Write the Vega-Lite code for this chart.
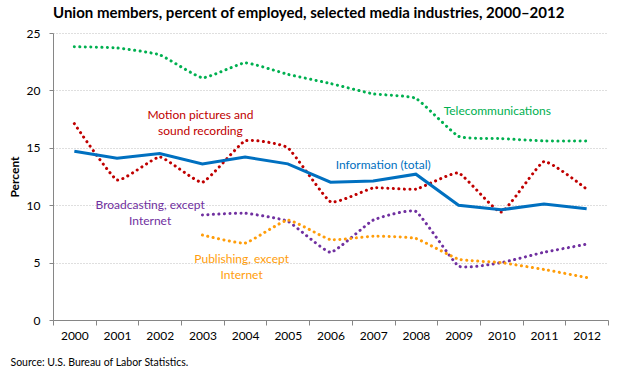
{
  "$schema": "https://vega.github.io/schema/vega-lite/v6.json",
  "width": 555,
  "height": 287,
  "autosize": "none",
  "padding": {"left": 53, "top": 33, "right": 12, "bottom": 52},
  "background": "white",
  "title": {
    "text": "Union members, percent of employed, selected media industries, 2000–2012",
    "anchor": "start",
    "frame": "group",
    "font": "Lato",
    "fontSize": 15,
    "fontWeight": "bold",
    "color": "#000000",
    "offset": 6
  },
  "config": {
    "view": {"stroke": null},
    "font": "Lato",
    "axis": {
      "labelFont": "Lato",
      "labelFontSize": 12,
      "labelColor": "#000000",
      "domainColor": "#868686",
      "tickColor": "#868686",
      "titleFont": "Lato"
    }
  },
  "datasets": {
    "series": [
      {"year": "2000", "series": "Information (total)", "value": 14.7},
      {"year": "2001", "series": "Information (total)", "value": 14.1},
      {"year": "2002", "series": "Information (total)", "value": 14.5},
      {"year": "2003", "series": "Information (total)", "value": 13.6},
      {"year": "2004", "series": "Information (total)", "value": 14.2},
      {"year": "2005", "series": "Information (total)", "value": 13.6},
      {"year": "2006", "series": "Information (total)", "value": 12.0},
      {"year": "2007", "series": "Information (total)", "value": 12.1},
      {"year": "2008", "series": "Information (total)", "value": 12.7},
      {"year": "2009", "series": "Information (total)", "value": 10.0},
      {"year": "2010", "series": "Information (total)", "value": 9.6},
      {"year": "2011", "series": "Information (total)", "value": 10.1},
      {"year": "2012", "series": "Information (total)", "value": 9.7},
      {"year": "2000", "series": "Telecommunications", "value": 23.8},
      {"year": "2001", "series": "Telecommunications", "value": 23.7},
      {"year": "2002", "series": "Telecommunications", "value": 23.1},
      {"year": "2003", "series": "Telecommunications", "value": 21.1},
      {"year": "2004", "series": "Telecommunications", "value": 22.4},
      {"year": "2005", "series": "Telecommunications", "value": 21.4},
      {"year": "2006", "series": "Telecommunications", "value": 20.6},
      {"year": "2007", "series": "Telecommunications", "value": 19.7},
      {"year": "2008", "series": "Telecommunications", "value": 19.3},
      {"year": "2009", "series": "Telecommunications", "value": 16.0},
      {"year": "2010", "series": "Telecommunications", "value": 15.8},
      {"year": "2011", "series": "Telecommunications", "value": 15.6},
      {"year": "2012", "series": "Telecommunications", "value": 15.6},
      {"year": "2000", "series": "Motion pictures and sound recording", "value": 17.1},
      {"year": "2001", "series": "Motion pictures and sound recording", "value": 12.2},
      {"year": "2002", "series": "Motion pictures and sound recording", "value": 14.2},
      {"year": "2003", "series": "Motion pictures and sound recording", "value": 12.0},
      {"year": "2004", "series": "Motion pictures and sound recording", "value": 15.6},
      {"year": "2005", "series": "Motion pictures and sound recording", "value": 15.0},
      {"year": "2006", "series": "Motion pictures and sound recording", "value": 10.3},
      {"year": "2007", "series": "Motion pictures and sound recording", "value": 11.5},
      {"year": "2008", "series": "Motion pictures and sound recording", "value": 11.4},
      {"year": "2009", "series": "Motion pictures and sound recording", "value": 12.8},
      {"year": "2010", "series": "Motion pictures and sound recording", "value": 9.4},
      {"year": "2011", "series": "Motion pictures and sound recording", "value": 13.8},
      {"year": "2012", "series": "Motion pictures and sound recording", "value": 11.4},
      {"year": "2003", "series": "Broadcasting, except Internet", "value": 9.15},
      {"year": "2004", "series": "Broadcasting, except Internet", "value": 9.3},
      {"year": "2005", "series": "Broadcasting, except Internet", "value": 8.6},
      {"year": "2006", "series": "Broadcasting, except Internet", "value": 5.9},
      {"year": "2007", "series": "Broadcasting, except Internet", "value": 8.7},
      {"year": "2008", "series": "Broadcasting, except Internet", "value": 9.45},
      {"year": "2009", "series": "Broadcasting, except Internet", "value": 4.7},
      {"year": "2010", "series": "Broadcasting, except Internet", "value": 5.0},
      {"year": "2011", "series": "Broadcasting, except Internet", "value": 5.9},
      {"year": "2012", "series": "Broadcasting, except Internet", "value": 6.6},
      {"year": "2003", "series": "Publishing, except Internet", "value": 7.4},
      {"year": "2004", "series": "Publishing, except Internet", "value": 6.7},
      {"year": "2005", "series": "Publishing, except Internet", "value": 8.7},
      {"year": "2006", "series": "Publishing, except Internet", "value": 7.0},
      {"year": "2007", "series": "Publishing, except Internet", "value": 7.3},
      {"year": "2008", "series": "Publishing, except Internet", "value": 7.1},
      {"year": "2009", "series": "Publishing, except Internet", "value": 5.3},
      {"year": "2010", "series": "Publishing, except Internet", "value": 5.0},
      {"year": "2011", "series": "Publishing, except Internet", "value": 4.4},
      {"year": "2012", "series": "Publishing, except Internet", "value": 3.7}
    ]
  },
  "encoding": {
    "x": {
      "field": "year",
      "type": "ordinal",
      "scale": {"type": "band", "paddingInner": 0, "paddingOuter": 0},
      "axis": {
        "labelAngle": 0,
        "tickBand": "extent",
        "tickSize": 5,
        "labelPadding": 5,
        "grid": false,
        "title": "Source: U.S. Bureau of Labor Statistics.",
        "titleFontSize": 10.5,
        "titleFontWeight": "normal",
        "titleColor": "#000000",
        "titleAnchor": "start",
        "titleAlign": "left",
        "titleBaseline": "middle",
        "titleX": -43,
        "titleY": 42
      }
    },
    "y": {
      "field": "value",
      "type": "quantitative",
      "scale": {"domain": [0, 25], "nice": false},
      "axis": {
        "values": [0, 5, 10, 15, 20, 25],
        "tickSize": 4,
        "labelPadding": 9,
        "grid": true,
        "gridColor": "#BFBFBF",
        "gridDash": [1, 2],
        "gridWidth": 1,
        "title": "Percent",
        "titleFontSize": 12,
        "titleFontWeight": "bold",
        "titleColor": "#000000",
        "titlePadding": 5
      }
    },
    "color": {
      "field": "series",
      "type": "nominal",
      "legend": null,
      "scale": {
        "domain": ["Information (total)", "Telecommunications", "Motion pictures and sound recording", "Broadcasting, except Internet", "Publishing, except Internet"],
        "range": ["#0070C0", "#00B050", "#C00000", "#7030A0", "#FF9D0A"]
      }
    }
  },
  "layer": [
    {
      "data": {"name": "series"},
      "transform": [{"filter": "datum.series !== 'Information (total)'"}],
      "mark": {"type": "line", "interpolate": "cardinal", "tension": 0.6, "strokeWidth": 3, "strokeDash": [0.1, 5.4], "strokeCap": "round"}
    },
    {
      "data": {"name": "series"},
      "transform": [{"filter": "datum.series === 'Information (total)'"}],
      "mark": {"type": "line", "strokeWidth": 3}
    },
    {
      "data": {"values": [{"year": "2010", "value": 18.2, "series": "Telecommunications", "label": "Telecommunications"}]},
      "mark": {"type": "text", "fontSize": 12, "dx": -4, "baseline": "middle"},
      "encoding": {"text": {"field": "label"}}
    },
    {
      "data": {"values": [{"year": "2003", "value": 17.88, "series": "Motion pictures and sound recording", "label": "Motion pictures and\nsound recording"}]},
      "mark": {"type": "text", "fontSize": 12, "dx": -2, "baseline": "middle", "lineBreak": "\n", "lineHeight": 16, "color": "#D00000"},
      "encoding": {"text": {"field": "label"}}
    },
    {
      "data": {"values": [{"year": "2007", "value": 13.5, "series": "Information (total)", "label": "Information (total)"}]},
      "mark": {"type": "text", "fontSize": 12, "dx": 10, "baseline": "middle"},
      "encoding": {"text": {"field": "label"}}
    },
    {
      "data": {"values": [{"year": "2002", "value": 10.03, "series": "Broadcasting, except Internet", "label": "Broadcasting, except\nInternet"}]},
      "mark": {"type": "text", "fontSize": 12, "dx": -9.6, "baseline": "middle", "lineBreak": "\n", "lineHeight": 16},
      "encoding": {"text": {"field": "label"}}
    },
    {
      "data": {"values": [{"year": "2004", "value": 5.29, "series": "Publishing, except Internet", "label": "Publishing, except\nInternet"}]},
      "mark": {"type": "text", "fontSize": 12, "dx": -3.5, "baseline": "middle", "lineBreak": "\n", "lineHeight": 16, "color": "#E8920F"},
      "encoding": {"text": {"field": "label"}}
    }
  ]
}
